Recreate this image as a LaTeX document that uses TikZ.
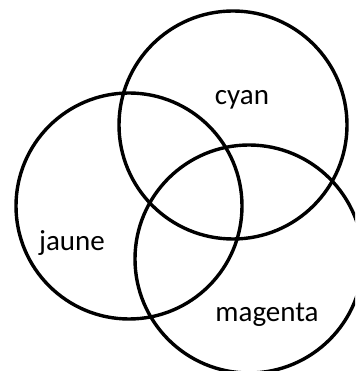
\documentclass[tikz,border=0pt]{standalone}
\usepackage{fontspec}
\setmainfont{Carlito}

\tikzset{
    ring/.style={line width=3.4pt},
    colname/.style={font=\fontsize{29}{31}\selectfont, inner sep=0pt}
}

\begin{document}
\begin{tikzpicture}[x=1pt, y=1pt]
    % Frame
    \useasboundingbox (0, 0) rectangle (355, 371);
    \clip (0, 0) rectangle (355, 371);

    % Centres
    \coordinate (C) at (233, 246);
    \coordinate (J) at (129, 165);
    \coordinate (M) at (249, 112);

    % Circles
    \draw[ring] (C) circle (114);
    \draw[ring] (J) circle (113);
    \draw[ring] (M) circle (114);

    % Labels
    \node[colname] (cyan) at (242, 271) {cyan};
    \node[colname] (jaune) at (72, 128) {jaune};
    \node[colname] (magenta) at (267, 56) {magenta};
\end{tikzpicture}
\end{document}
